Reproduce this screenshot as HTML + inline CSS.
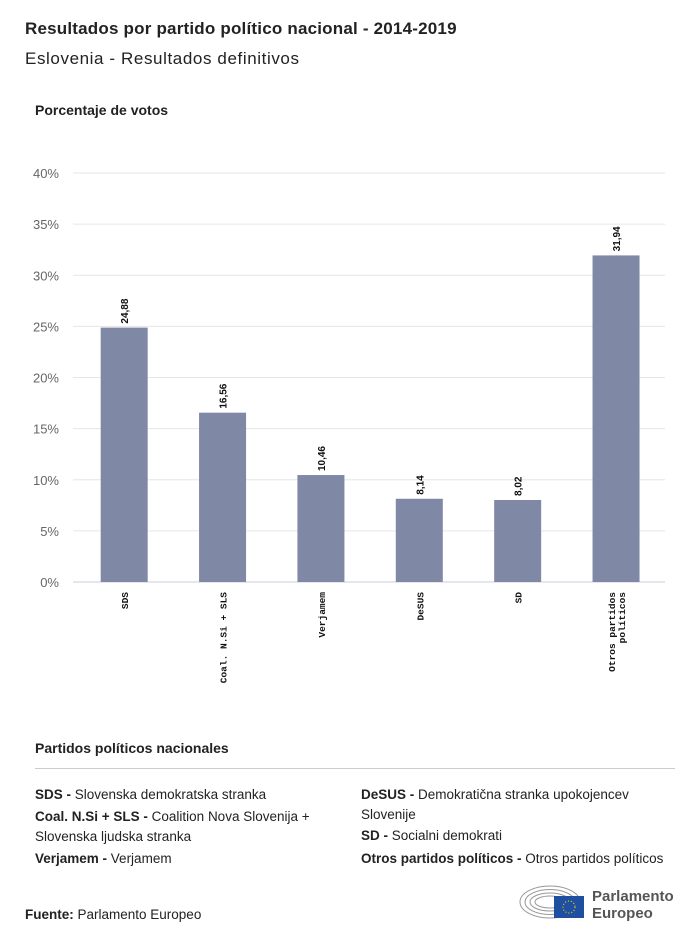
<!DOCTYPE html>
<html><head><meta charset="utf-8">
<style>
body{margin:0;background:#fff;font-family:"Liberation Sans",sans-serif;color:#222;}
#page{position:relative;width:700px;height:941px;overflow:hidden;}
.abs{position:absolute;white-space:nowrap;}
.leg{position:absolute;font-size:13.5px;line-height:20px;color:#222;}
.leg b{font-weight:bold;}
</style></head><body>
<div id="page">
<div class="abs" style="left:25px;top:19px;font-size:17px;font-weight:bold;letter-spacing:0.2px;">Resultados por partido político nacional - 2014-2019</div>
<div class="abs" style="left:25px;top:49px;font-size:17px;letter-spacing:0.6px;">Eslovenia - Resultados definitivos</div>
<div class="abs" style="left:35px;top:102px;font-size:14px;font-weight:bold;">Porcentaje de votos</div>
<svg id="chart" width="700" height="700" style="position:absolute;left:0;top:0"></svg>
<div class="abs" style="left:35px;top:740px;font-size:14px;font-weight:bold;">Partidos políticos nacionales</div>
<div style="position:absolute;left:35px;top:768px;width:640px;height:1px;background:#ccc"></div>
<div class="leg" style="left:35px;top:785px;"><b>SDS -</b> Slovenska demokratska stranka</div>
<div class="leg" style="left:35px;top:807px;width:300px;"><b>Coal. N.Si + SLS -</b> Coalition Nova Slovenija + Slovenska ljudska stranka</div>
<div class="leg" style="left:35px;top:849px;"><b>Verjamem -</b> Verjamem</div>
<div class="leg" style="left:361px;top:785px;width:310px;"><b>DeSUS -</b> Demokratična stranka upokojencev Slovenije</div>
<div class="leg" style="left:361px;top:826px;"><b>SD -</b> Socialni demokrati</div>
<div class="leg" style="left:361px;top:849px;"><b>Otros partidos políticos -</b> Otros partidos políticos</div>
<div class="abs" style="left:25px;top:907px;font-size:13.5px;"><b>Fuente:</b> Parlamento Europeo</div>
<svg width="90" height="40" style="position:absolute;left:518px;top:882px">
<g fill="none" stroke="#999" stroke-width="1">
<ellipse cx="32" cy="20" rx="30" ry="16"/><ellipse cx="32" cy="20" rx="25" ry="12.5"/><ellipse cx="32" cy="20" rx="20" ry="9"/><ellipse cx="32" cy="20" rx="15" ry="6"/></g>
<rect x="36" y="14" width="30" height="22" fill="#1f4fa0"/>
<circle cx="51" cy="25" r="6" fill="none" stroke="#f5d000" stroke-width="1.2" stroke-dasharray="1 2"/>
</svg>
<div class="abs" style="left:592px;top:888px;font-size:15px;font-weight:bold;color:#555;line-height:17px;">Parlamento<br>Europeo</div>
</div>
<script>
const categories=["SDS","Coal. N.Si + SLS","Verjamem","DeSUS","SD","Otros partidos políticos"];
const values=[24.88,16.56,10.46,8.14,8.02,31.94];
const valueLabels=["24,88","16,56","10,46","8,14","8,02","31,94"];
const yTicks=[0,5,10,15,20,25,30,35,40];
const svg=document.getElementById('chart');
const NS='http://www.w3.org/2000/svg';
const x0=73,x1=665,y0=582,y1=173,maxV=40;
const y=v=>y0-(v/maxV)*(y0-y1);
const band=(x1-x0)/categories.length*0.997;
const xc=i=>x0+2+band*(i+0.5);
function mk(t,a){const e=document.createElementNS(NS,t);for(const k in a)e.setAttribute(k,a[k]);svg.appendChild(e);return e;}
yTicks.forEach(t=>{
 const l=mk('line',{x1:x0,x2:x1,y1:y(t),y2:y(t),stroke:t===0?'#ccd':'#e6e6e6','stroke-width':1});
 
 
 const tx=mk('text',{x:59,y:y(t)+5,'text-anchor':'end','font-size':13,fill:'#666','font-family':'Liberation Sans, sans-serif'});
 tx.textContent=t+'%';
 
 
});
categories.forEach((c,i)=>{
 const cx=xc(i),w=47;
 const r=mk('rect',{x:cx-w/2,y:y(values[i]),width:w,height:y0-y(values[i]),fill:'#7f88a5'});
 
 
 const vl=mk('text',{transform:`translate(${cx+4},${y(values[i])-4}) rotate(-90)`,'font-size':10,'font-weight':'bold',fill:'#111','font-family':'Liberation Sans, sans-serif'});
 vl.textContent=valueLabels[i];
 
 
 const words=c==="Otros partidos políticos"?["Otros partidos","políticos"]:[c];
 words.forEach((wd,j)=>{
  const cl=mk('text',{transform:`translate(${cx+4+j*10-(words.length-1)*5},${y0+10}) rotate(-90)`,'text-anchor':'end','font-size':9.5,'font-weight':'bold',fill:'#111','font-family':'Liberation Mono, monospace'});
  cl.textContent=wd;
  
  
 });
});
</script>
</body></html>
